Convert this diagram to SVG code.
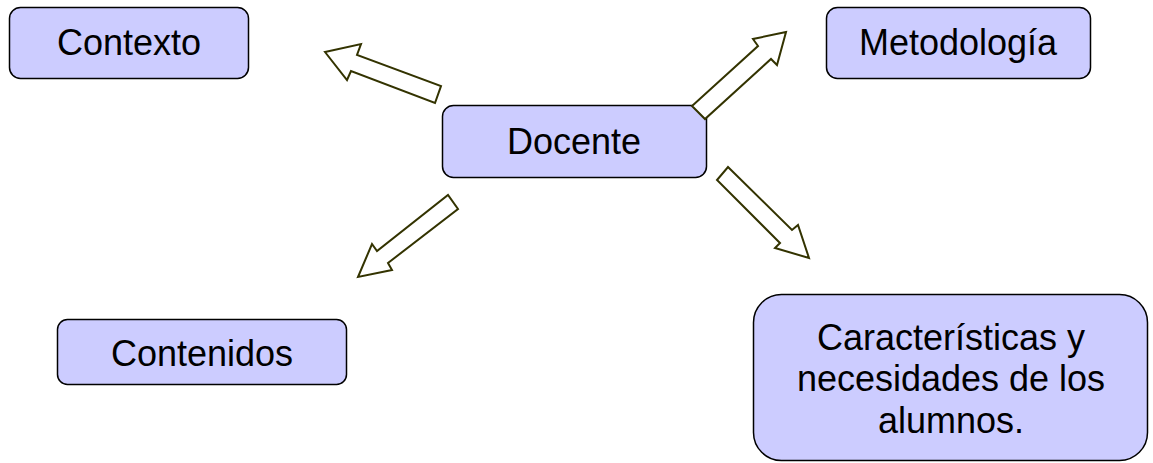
<svg xmlns="http://www.w3.org/2000/svg" width="1153" height="463" viewBox="0 0 1153 463">
<style>
.box{fill:#ccccff;stroke:#000;stroke-width:1.5}
.lbl{font-family:"Liberation Sans",Arial,sans-serif;font-size:36px;fill:#000;text-anchor:middle}
.arr{fill:#fff;stroke:#333300;stroke-width:2;stroke-linejoin:miter}
</style>
<rect width="1153" height="463" fill="#fff"/>
<g id="contexto">
<rect class="box" x="9.5" y="7.5" width="239" height="71" rx="11"/>
<text class="lbl" x="129" y="55">Contexto</text>
</g>
<g id="metodologia">
<rect class="box" x="826.5" y="7.5" width="264" height="71" rx="11"/>
<text class="lbl" x="958" y="55">Metodología</text>
</g>
<g id="docente">
<rect class="box" x="442.5" y="105.5" width="264" height="72" rx="11"/>
<text class="lbl" x="574" y="154">Docente</text>
</g>
<g id="contenidos">
<rect class="box" x="57.5" y="319.5" width="289" height="65" rx="10"/>
<text class="lbl" x="202" y="366">Contenidos</text>
</g>
<g id="caracteristicas">
<rect class="box" x="753.5" y="294.5" width="394" height="166" rx="28"/>
<text class="lbl" x="951" y="350">Características y</text>
<text class="lbl" x="951" y="391">necesidades de los</text>
<text class="lbl" x="951" y="433">alumnos.</text>
</g>
<g id="connectors">
<polygon class="arr" points="325,52 361,44 357,55 441,86 435,103 351,71 347,80"/>
<polygon class="arr" points="786,32 753,39 758,46 692,106 705,119 771,59 777,65"/>
<polygon class="arr" points="358,277 372,244 377,251 448,195 458,209 388,263 392,270"/>
<polygon class="arr" points="809,258 798,225 792,230 728,167 717,180 780,243 775,248"/>
</g>
</svg>
